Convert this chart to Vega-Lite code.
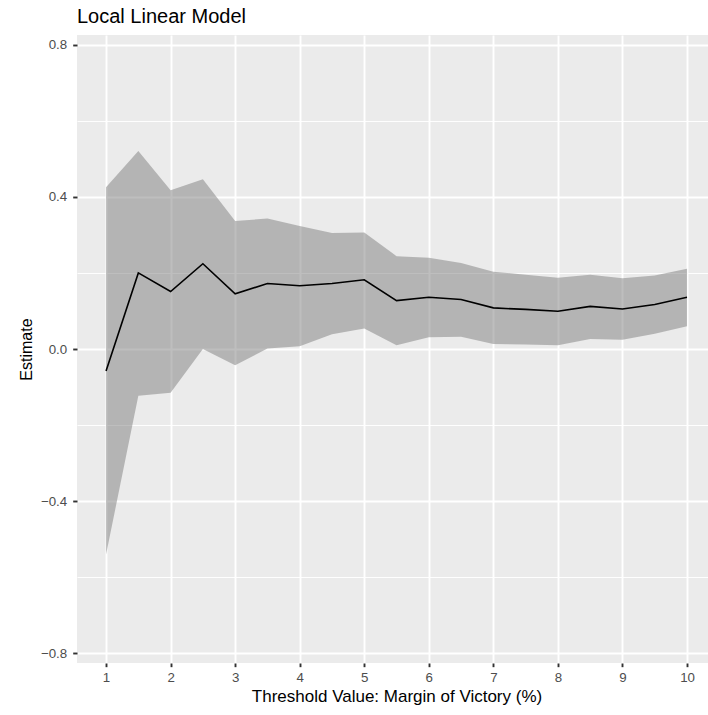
{
  "$schema": "https://vega.github.io/schema/vega-lite/v6.json",
  "width": 631,
  "height": 628,
  "autosize": "none",
  "padding": {"left": 77, "top": 35, "right": 0, "bottom": 52},
  "background": "white",
  "title": {
    "text": "Local Linear Model",
    "anchor": "start",
    "frame": "group",
    "fontSize": 20,
    "font": "Liberation Sans",
    "fontWeight": "normal",
    "color": "black",
    "baseline": "alphabetic",
    "offset": -8
  },
  "config": {
    "view": {"fill": "#EBEBEB", "stroke": null},
    "font": "Liberation Sans"
  },
  "data": {
    "values": [
      {"threshold": 1, "estimate": -0.058, "lower": -0.540, "upper": 0.425},
      {"threshold": 1.5, "estimate": 0.200, "lower": -0.123, "upper": 0.520},
      {"threshold": 2, "estimate": 0.151, "lower": -0.115, "upper": 0.417},
      {"threshold": 2.5, "estimate": 0.224, "lower": 0.000, "upper": 0.446},
      {"threshold": 3, "estimate": 0.145, "lower": -0.043, "upper": 0.336},
      {"threshold": 3.5, "estimate": 0.172, "lower": 0.001, "upper": 0.343},
      {"threshold": 4, "estimate": 0.166, "lower": 0.007, "upper": 0.323},
      {"threshold": 4.5, "estimate": 0.172, "lower": 0.039, "upper": 0.305},
      {"threshold": 5, "estimate": 0.182, "lower": 0.054, "upper": 0.306},
      {"threshold": 5.5, "estimate": 0.127, "lower": 0.010, "upper": 0.244},
      {"threshold": 6, "estimate": 0.136, "lower": 0.031, "upper": 0.240},
      {"threshold": 6.5, "estimate": 0.130, "lower": 0.032, "upper": 0.226},
      {"threshold": 7, "estimate": 0.108, "lower": 0.013, "upper": 0.203},
      {"threshold": 7.5, "estimate": 0.104, "lower": 0.012, "upper": 0.195},
      {"threshold": 8, "estimate": 0.099, "lower": 0.010, "upper": 0.187},
      {"threshold": 8.5, "estimate": 0.112, "lower": 0.026, "upper": 0.195},
      {"threshold": 9, "estimate": 0.105, "lower": 0.024, "upper": 0.186},
      {"threshold": 9.5, "estimate": 0.117, "lower": 0.040, "upper": 0.193},
      {"threshold": 10, "estimate": 0.136, "lower": 0.060, "upper": 0.211}
    ]
  },
  "layer": [
    {
      "mark": {"type": "area", "color": "#7D7D7D", "fillOpacity": 0.5, "clip": true},
      "encoding": {
        "x": {
          "field": "threshold",
          "type": "quantitative",
          "scale": {"domain": [0.55, 10.325], "nice": false, "zero": false},
          "axis": {
            "values": [1, 1.5, 2, 2.5, 3, 3.5, 4, 4.5, 5, 5.5, 6, 6.5, 7, 7.5, 8, 8.5, 9, 9.5, 10],
            "format": "d",
            "labelExpr": "datum.value % 1 === 0 ? datum.label : ''",
            "grid": true,
            "gridColor": "white",
            "gridOpacity": 1,
            "gridWidth": {"condition": {"test": "datum.value % 1 !== 0", "value": 0.95}, "value": 1.9},
            "domain": false,
            "ticks": true,
            "tickColor": "#333333",
            "tickWidth": 1.9,
            "tickSize": 3.67,
            "tickOpacity": {"condition": {"test": "datum.value % 1 !== 0", "value": 0}, "value": 1},
            "labelColor": "#4D4D4D",
            "labelFontSize": 13.3,
            "labelPadding": 3.5,
            "labelOverlap": false,
            "labelFlush": false,
            "labelBound": false,
            "title": "Threshold Value: Margin of Victory (%)",
            "titleFontSize": 17,
            "titleFontWeight": "normal",
            "titleColor": "black",
            "titleX": 319.5,
            "titleY": 38.7,
            "titleAlign": "center",
            "titleBaseline": "alphabetic"
          }
        },
        "y": {
          "field": "lower",
          "type": "quantitative",
          "scale": {"domain": [-0.825, 0.825], "nice": false, "zero": false},
          "axis": {
            "values": [-0.8, -0.6, -0.4, -0.2, 0, 0.2, 0.4, 0.6, 0.8],
            "format": ".1f",
            "labelExpr": "round(datum.value * 10) % 4 === 0 ? datum.label : ''",
            "grid": true,
            "gridColor": "white",
            "gridOpacity": 1,
            "gridWidth": {"condition": {"test": "round(datum.value * 10) % 4 !== 0", "value": 0.95}, "value": 1.9},
            "domain": false,
            "ticks": true,
            "tickColor": "#333333",
            "tickWidth": 1.9,
            "tickSize": 4.3,
            "tickOpacity": {"condition": {"test": "round(datum.value * 10) % 4 !== 0", "value": 0}, "value": 1},
            "labelColor": "#4D4D4D",
            "labelFontSize": 13.3,
            "labelPadding": 6,
            "labelOverlap": false,
            "labelFlush": false,
            "labelBound": false,
            "title": "Estimate",
            "titleFontSize": 16,
            "titleFontWeight": "normal",
            "titleColor": "black",
            "titleAngle": 270,
            "titleX": -46,
            "titleY": 314,
            "titleAlign": "center",
            "titleBaseline": "alphabetic"
          }
        },
        "y2": {"field": "upper"}
      }
    },
    {
      "mark": {"type": "line", "color": "black", "strokeWidth": 1.6, "clip": true},
      "encoding": {
        "x": {"field": "threshold", "type": "quantitative"},
        "y": {"field": "estimate", "type": "quantitative"}
      }
    }
  ]
}
